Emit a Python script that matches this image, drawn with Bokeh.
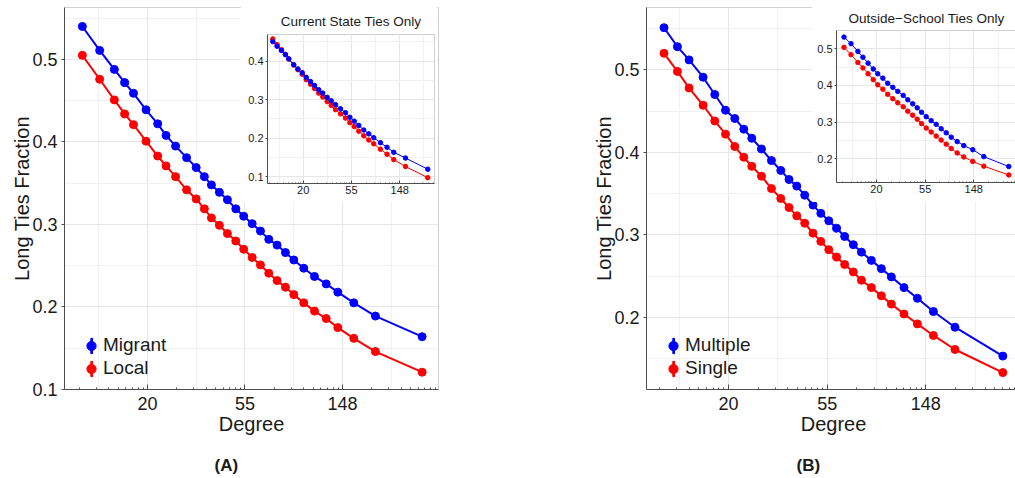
import math

from bokeh.embed import file_html
from bokeh.models import (CustomJSTickFormatter, FixedTicker, Legend, LegendItem,
                          Range1d, Title)
from bokeh.plotting import figure
from bokeh.resources import INLINE

# ---------------------------------------------------------------- data
# Panel A: migrant vs local students, all ties
deg_a = [10.3, 12.3, 14.3, 15.9, 17.4, 19.8, 22.3, 24.3, 26.8, 30.0, 33.1, 36.0,
         38.7, 42.0, 45.6, 49.7, 53.9, 58.8, 64.0, 69.7, 75.9, 82.7, 90.1, 99.8,
         111.4, 125.6, 141.5, 166.7, 208.1, 336.0]
migrant = [0.540, 0.511, 0.488, 0.472, 0.459, 0.439, 0.422, 0.408, 0.395, 0.381,
           0.369, 0.358, 0.348, 0.339, 0.330, 0.319, 0.310, 0.301, 0.292, 0.282,
           0.275, 0.266, 0.257, 0.247, 0.237, 0.228, 0.218, 0.205, 0.189, 0.164]
local = [0.505, 0.476, 0.451, 0.434, 0.421, 0.401, 0.383, 0.371, 0.358, 0.342,
         0.331, 0.319, 0.308, 0.299, 0.289, 0.280, 0.270, 0.260, 0.251, 0.241,
         0.232, 0.224, 0.215, 0.205, 0.195, 0.186, 0.175, 0.162, 0.146, 0.121]

# Panel A inset: current state ties only
deg_a_in = [10.7, 11.7, 12.8, 13.9, 14.9, 16.5, 18.0, 19.7, 21.4, 23.4, 25.4, 27.7,
            30.1, 33.0, 35.9, 39.2, 43.5, 48.2, 52.8, 57.8, 63.5, 70.4, 78.1, 86.6,
            99.5, 114.0, 131.0, 167.0, 265.0]
migrant_in = [0.451, 0.439, 0.428, 0.417, 0.406, 0.391, 0.380, 0.370, 0.358, 0.347,
              0.337, 0.326, 0.317, 0.306, 0.297, 0.287, 0.276, 0.266, 0.254, 0.244,
              0.233, 0.221, 0.211, 0.201, 0.188, 0.176, 0.163, 0.148, 0.119]
local_in = [0.458, 0.443, 0.430, 0.418, 0.406, 0.390, 0.378, 0.366, 0.352, 0.340,
            0.329, 0.317, 0.307, 0.295, 0.285, 0.274, 0.263, 0.252, 0.240, 0.230,
            0.218, 0.206, 0.195, 0.185, 0.171, 0.158, 0.144, 0.126, 0.097]

# Panel B: students with multiple vs single schools, all ties
deg_b = [10.45, 11.97, 13.47, 15.53, 17.48, 19.49, 21.41, 23.46, 25.44, 28.06, 31.05,
         34.13, 37.11, 40.13, 43.5, 47.3, 51.2, 55.5, 60.1, 65.2, 71.2, 77.3, 85.5,
         94.6, 104.7, 119.0, 136.3, 160.3, 199.5, 324.0]
multiple = [0.551, 0.528, 0.512, 0.491, 0.470, 0.451, 0.441, 0.428, 0.417, 0.404,
            0.390, 0.378, 0.367, 0.359, 0.348, 0.336, 0.326, 0.317, 0.308, 0.298,
            0.288, 0.279, 0.269, 0.259, 0.249, 0.236, 0.223, 0.207, 0.188, 0.153]
single = [0.520, 0.498, 0.478, 0.457, 0.438, 0.422, 0.407, 0.394, 0.383, 0.371,
          0.356, 0.344, 0.333, 0.323, 0.314, 0.302, 0.292, 0.282, 0.273, 0.264,
          0.255, 0.245, 0.236, 0.226, 0.216, 0.204, 0.192, 0.178, 0.161, 0.133]

# Panel B inset: outside-school ties only
deg_b_in = [10.3, 11.9, 13.7, 15.2, 16.9, 18.8, 20.6, 22.9, 25.3, 28.1, 31.1, 34.8,
            38.2, 42.3, 46.4, 50.7, 55.8, 61.8, 68.5, 75.9, 84.2, 93.3, 105.5, 120.8,
            145.3, 182.3, 304.6]
multiple_in = [0.532, 0.514, 0.493, 0.477, 0.461, 0.445, 0.432, 0.420, 0.406, 0.395,
               0.384, 0.373, 0.361, 0.350, 0.339, 0.327, 0.315, 0.304, 0.294, 0.282,
               0.271, 0.259, 0.247, 0.236, 0.225, 0.206, 0.179]
single_in = [0.504, 0.484, 0.463, 0.448, 0.432, 0.416, 0.402, 0.390, 0.376, 0.364,
             0.353, 0.342, 0.330, 0.319, 0.308, 0.296, 0.284, 0.273, 0.262, 0.251,
             0.240, 0.228, 0.216, 0.205, 0.193, 0.180, 0.156]

y_ticks_main = [0.1, 0.2, 0.3, 0.4, 0.5]
y_ticks_a_in = [0.1, 0.2, 0.3, 0.4]
y_ticks_b_in = [0.2, 0.3, 0.4, 0.5]

# ---------------------------------------------------------------- style
FONT = "Liberation Sans"
BLUE = "#0000ff"
RED = "#ff0000"
INK = "#1a1a1a"
AXIS = "#4d4d4d"
BORDER = "#d0d0d0"
GRID = "#e6e6e6"
GRID_MINOR = "#f1f1f1"
NAN = float("nan")


def log_ticks(lo, hi):
    """Natural-log axis: majors at e^k, log10-style minor marks inside each e-step."""
    major = [math.exp(k) for k in range(0, 9) if lo <= math.exp(k) <= hi]
    minor = [math.exp(k + math.log10(m)) for k in range(0, 9) for m in range(2, 10)
             if lo <= math.exp(k + math.log10(m)) <= hi]
    return major, minor


def grid_ticks(lo, hi):
    major = [math.exp(k) for k in range(0, 9) if lo <= math.exp(k) <= hi]
    minor = [math.exp(k + 0.5) for k in range(0, 9) if lo <= math.exp(k + 0.5) <= hi]
    return major, minor


def style_axes(p, x_lo, x_hi, y_ticks, label_px, tick_in, minor_in, tick_out,
               x_standoff, y_standoff):
    major, minor = log_ticks(x_lo, x_hi)
    gmaj, gmin = grid_ticks(x_lo, x_hi)
    xa, ya = p.xaxis[0], p.yaxis[0]
    xa.ticker = FixedTicker(ticks=major, minor_ticks=minor)
    xa.formatter = CustomJSTickFormatter(code="return Math.round(tick).toString();")
    ya.ticker = FixedTicker(ticks=y_ticks, minor_ticks=[])
    for ax in (xa, ya):
        ax.axis_line_color = AXIS
        ax.major_tick_line_color = AXIS
        ax.minor_tick_line_color = AXIS
        ax.major_label_text_font = FONT
        ax.major_label_text_font_size = label_px
        ax.major_label_text_color = INK
        ax.axis_label_text_font = FONT
        ax.axis_label_text_font_style = "normal"
        ax.axis_label_text_color = INK
    xa.major_label_standoff = x_standoff
    ya.major_label_standoff = y_standoff
    xa.major_tick_in = tick_in
    xa.major_tick_out = 0
    xa.minor_tick_in = minor_in
    xa.minor_tick_out = 0
    ya.major_tick_in = 0
    ya.major_tick_out = tick_out
    ya.minor_tick_in = 0
    ya.minor_tick_out = 0

    p.xgrid.ticker = FixedTicker(ticks=gmaj, minor_ticks=gmin)
    y_minor = [round(t + 0.05, 2) for t in [0.0] + list(y_ticks)]
    p.ygrid.ticker = FixedTicker(ticks=list(y_ticks), minor_ticks=y_minor)
    for g in (p.xgrid[0], p.ygrid[0]):
        g.grid_line_color = GRID
        g.grid_line_width = 1
        g.minor_grid_line_color = GRID_MINOR
        g.minor_grid_line_width = 1


def key_legends(p, label, color, row_from_bottom):
    """One legend row: a dot with a vertical range bar, then the series label."""
    dot = p.scatter(x=[NAN], y=[NAN], size=8, color=color)
    bar = p.vbar(x=[NAN], top=[NAN], width=1, color=color)
    common = dict(padding=0, margin=0, spacing=0, background_fill_alpha=0,
                  border_line_color=None, label_text_font=FONT,
                  label_text_font_size="19px", label_text_color=INK)
    p.add_layout(Legend(items=[LegendItem(label=" ", renderers=[bar])],
                        glyph_width=3, glyph_height=19, label_height=19,
                        location=(25.5, row_from_bottom + 2), **common))
    p.add_layout(Legend(items=[LegendItem(label=label, renderers=[dot])],
                        glyph_width=24, glyph_height=23, label_height=23,
                        label_standoff=0, location=(15, row_from_bottom), **common))


def main_panel(name, deg, top_s, bottom_s, top_label, bottom_label,
               ln_lo, ln_hi, y_lo, y_hi, letter):
    x_lo, x_hi = math.exp(ln_lo), math.exp(ln_hi)
    p = figure(name=name, frame_width=374, frame_height=382,
               min_border_left=64, min_border_top=7, min_border_right=5,
               min_border_bottom=89, x_axis_type="log",
               x_range=Range1d(x_lo, x_hi), y_range=Range1d(y_lo, y_hi),
               output_backend="svg", toolbar_location=None,
               background_fill_color="white", border_fill_color="white",
               outline_line_color=BORDER)
    style_axes(p, x_lo, x_hi, y_ticks_main, "18px", 5, 2, 3, 7, 4)
    p.xaxis.axis_label = "Degree"
    p.yaxis.axis_label = "Long Ties Fraction"
    p.xaxis.axis_label_text_font_size = "20px"
    p.yaxis.axis_label_text_font_size = "20px"
    p.xaxis.axis_label_standoff = 0
    p.yaxis.axis_label_standoff = -4

    p.line(deg, bottom_s, line_color=RED, line_width=2)
    p.scatter(deg, bottom_s, size=8, color=RED)
    p.line(deg, top_s, line_color=BLUE, line_width=2)
    p.scatter(deg, top_s, size=8, color=BLUE)

    key_legends(p, top_label, BLUE, 32.5)
    key_legends(p, bottom_label, RED, 9.5)

    p.add_layout(Title(text=letter, align="left", offset=150, standoff=32,
                       text_font=FONT, text_font_size="17px",
                       text_font_style="bold", text_color=INK), "below")
    return p


def inset_panel(name, deg, top_s, bottom_s, title, ln_lo, ln_hi, y_lo, y_hi,
                y_ticks, fw, fh, b_left, b_top, b_bottom, title_gap):
    x_lo, x_hi = math.exp(ln_lo), math.exp(ln_hi)
    p = figure(name=name, title=title, frame_width=fw, frame_height=fh,
               min_border_left=b_left, min_border_top=b_top, min_border_right=3,
               min_border_bottom=b_bottom, x_axis_type="log",
               x_range=Range1d(x_lo, x_hi), y_range=Range1d(y_lo, y_hi),
               output_backend="svg", toolbar_location=None,
               background_fill_color="white", border_fill_color="white",
               outline_line_color=BORDER)
    p.title.align = "center"
    p.title.text_font = FONT
    p.title.text_font_size = "13.5px"
    p.title.text_font_style = "normal"
    p.title.text_color = INK
    p.title.standoff = title_gap
    style_axes(p, x_lo, x_hi, y_ticks, "11px", 3, 1, 2, 2, 2)

    p.line(deg, bottom_s, line_color=RED, line_width=1)
    p.scatter(deg, bottom_s, size=4.5, color=RED)
    p.line(deg, top_s, line_color=BLUE, line_width=1)
    p.scatter(deg, top_s, size=4.5, color=BLUE)
    return p


main_a = main_panel("main_a", deg_a, migrant, local, "Migrant", "Local",
                    2.149, 5.985, 0.1, 0.563, "(A)")
main_b = main_panel("main_b", deg_b, multiple, single, "Multiple", "Single",
                    2.169, 5.960, 0.1125, 0.5755, "(B)")
inset_a = inset_panel("inset_a", deg_a_in, migrant_in, local_in,
                      "Current State Ties Only", 2.261, 5.719, 0.0818, 0.4695,
                      y_ticks_a_in, 167, 149, 27, 30, 19, 12)
inset_b = inset_panel("inset_b", deg_b_in, multiple_in, single_in,
                      "Outside\u2212School Ties Only", 2.178, 5.878, 0.1354, 0.550,
                      y_ticks_b_in, 180, 152, 25, 27, 20, 10)

# page placement of each plot (left, top) in px; insets sit over their panels
POS = {"main_a": (0, 0), "main_b": (582, 0), "inset_a": (240, 4), "inset_b": (811, 3)}

PAGE = """
{% block postamble %}
<style>
  html, body { overflow: hidden; background: #ffffff; }
  .panel { position: absolute; }
</style>
{% endblock %}
{% block root scoped %}
<div class="panel" style="left: {{ pos[root.name][0] }}px; top: {{ pos[root.name][1] }}px;">
{{ super() }}
</div>
{% endblock %}
"""

p = [main_a, inset_a, main_b, inset_b]
open("out.html", "w").write(file_html(p, INLINE, template=PAGE,
                                      template_variables={"pos": POS}))
